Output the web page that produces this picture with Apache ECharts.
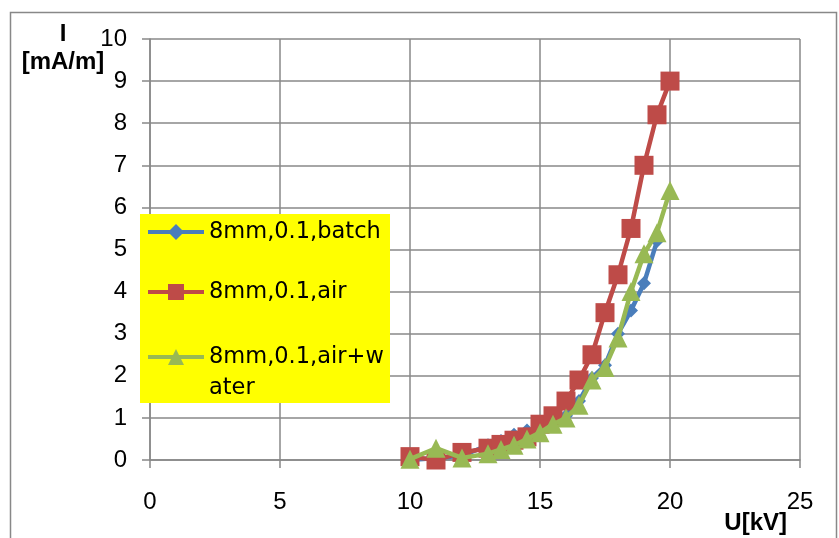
<!DOCTYPE html>
<html>
<head>
<meta charset="utf-8">
<script src="https://cdn.jsdelivr.net/npm/echarts@6/dist/echarts.min.js"></script>
<style>
  html, body { margin: 0; padding: 0; background: #fff; }
  #chart { width: 839px; height: 538px; }
</style>
</head>
<body>
<div id="chart"></div>
<script>
// Applied voltage U [kV]
const voltages = [10, 11, 12, 13, 13.5, 14, 14.5, 15, 15.5, 16, 16.5, 17, 17.5, 18, 18.5, 19, 19.5, 20];

// Current per unit length I [mA/m]
const batch    = [0.0, 0.05, 0.1, 0.35, 0.45, 0.6, 0.7, 0.75, 0.9, 1.05, 1.4, 1.95, 2.25, 3.0, 3.55, 4.2, 5.2];
const air      = [0.08, 0.0, 0.18, 0.28, 0.37, 0.47, 0.55, 0.85, 1.05, 1.4, 1.9, 2.5, 3.5, 4.4, 5.5, 7.0, 8.2, 9.0];
const airWater = [0.02, 0.28, 0.05, 0.15, 0.25, 0.35, 0.5, 0.65, 0.85, 1.0, 1.3, 1.9, 2.2, 2.9, 4.0, 4.9, 5.4, 6.4];

const seriesNames = ['8mm,0.1,batch', '8mm,0.1,air', '8mm,0.1,air+water'];
const xTicks = [0, 5, 10, 15, 20, 25];
const yTicks = [0, 1, 2, 3, 4, 5, 6, 7, 8, 9, 10];

const pairs = (ys) => ys.map((y, i) => [voltages[i], y]);

const GRID_COLOR = '#888888';
const AXIS_FONT = 'Liberation Sans, Arial, sans-serif';
const LEGEND_FONT = 'DejaVu Sans, sans-serif';

const legendBase = {
  orient: 'vertical',
  left: 146,
  padding: 0,
  itemWidth: 56,
  itemHeight: 20,
  z: 10,
  selectedMode: false,
  lineStyle: { width: 4 },
  textStyle: { fontFamily: LEGEND_FONT, fontSize: 22.5, color: '#000', lineHeight: 31 }
};

const chart = echarts.init(document.getElementById('chart'), null, { renderer: 'canvas' });

chart.setOption({
  animation: false,
  backgroundColor: '#ffffff',
  graphic: [
    {
      type: 'rect', z: 0,
      shape: { x: 10.5, y: 12.5, width: 826, height: 560 },
      style: { fill: 'none', stroke: GRID_COLOR, lineWidth: 1.5 }
    },
    {
      type: 'rect', z: 5,
      shape: { x: 140, y: 214, width: 250, height: 189 },
      style: { fill: '#ffff00' }
    }
  ],
  legend: [
    Object.assign({}, legendBase, { top: 232 - 15.5, data: [seriesNames[0]] }),
    Object.assign({}, legendBase, { top: 292 - 15.5, data: [seriesNames[1]] }),
    // wrapped label: an empty first line keeps the marker level with the first text line
    Object.assign({}, legendBase, {
      top: 357 - 46.5,
      data: [seriesNames[2]],
      formatter: () => '\n8mm,0.1,air+w\nater'
    })
  ],
  grid: { left: 150, right: 39, top: 39, bottom: 78, outerBoundsMode: 'none', containLabel: false },
  xAxis: {
    type: 'value',
    min: xTicks[0], max: xTicks[xTicks.length - 1], interval: 5,
    name: 'U[kV]',
    nameLocation: 'end',
    nameGap: 0,
    nameMoveOverlap: false,
    nameTextStyle: {
      fontFamily: AXIS_FONT, fontSize: 24, fontWeight: 'bold', color: '#000',
      align: 'right', verticalAlign: 'top', padding: [51, 13, 0, 0]
    },
    axisLine: { show: true, lineStyle: { color: GRID_COLOR, width: 1.5 } },
    axisTick: { show: true, length: 8, lineStyle: { color: GRID_COLOR, width: 1.5 } },
    axisLabel: { fontFamily: AXIS_FONT, fontSize: 24, color: '#000', margin: 30 },
    splitLine: { show: true, lineStyle: { color: GRID_COLOR, width: 1.5 } }
  },
  yAxis: {
    type: 'value',
    min: yTicks[0], max: yTicks[yTicks.length - 1], interval: 1,
    name: 'I\n[mA/m]',
    nameLocation: 'end',
    nameGap: 19,
    nameMoveOverlap: false,
    nameTextStyle: {
      fontFamily: AXIS_FONT, fontSize: 24, fontWeight: 'bold', color: '#000',
      align: 'center', verticalAlign: 'top', lineHeight: 28, padding: [0, 174, 0, 0]
    },
    axisLine: { show: true, lineStyle: { color: GRID_COLOR, width: 1.5 } },
    axisTick: { show: true, length: 8, lineStyle: { color: GRID_COLOR, width: 1.5 } },
    axisLabel: { fontFamily: AXIS_FONT, fontSize: 24, color: '#000', margin: 23 },
    splitLine: { show: true, lineStyle: { color: GRID_COLOR, width: 1.5 } }
  },
  series: [
    {
      name: seriesNames[0], type: 'line', data: pairs(batch),
      symbol: 'diamond', symbolSize: 14,
      lineStyle: { color: '#4a7ebb', width: 4.5 },
      itemStyle: { color: '#4a7ebb' }, z: 2
    },
    {
      name: seriesNames[1], type: 'line', data: pairs(air),
      symbol: 'rect', symbolSize: 19,
      lineStyle: { color: '#be4b48', width: 4.5 },
      itemStyle: { color: '#be4b48' }, z: 3
    },
    {
      name: seriesNames[2], type: 'line', data: pairs(airWater),
      symbol: 'triangle', symbolSize: 19,
      lineStyle: { color: '#98b954', width: 4.5 },
      itemStyle: { color: '#98b954' }, z: 4
    }
  ]
});
</script>
</body>
</html>
